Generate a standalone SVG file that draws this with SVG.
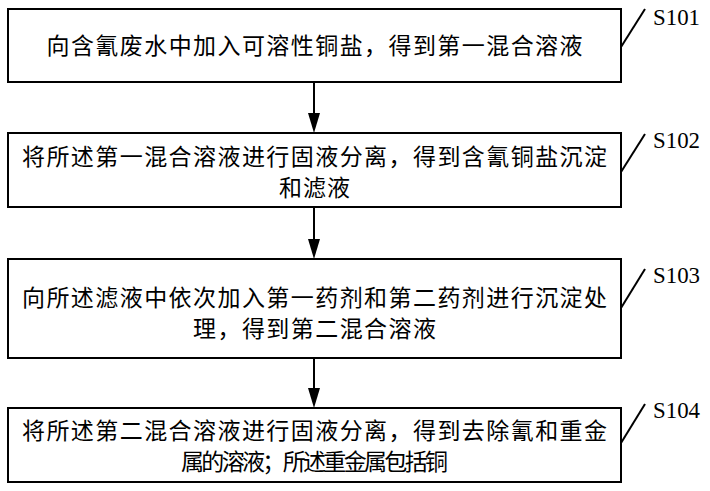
<svg xmlns="http://www.w3.org/2000/svg" width="710" height="491" viewBox="0 0 710 491">
<defs>
<style>
.box{fill:#fff;stroke:#000;stroke-width:2}
.t{font-family:"Noto Sans CJK SC","Liberation Serif",serif;font-size:23px;fill:#000;text-anchor:middle}
.lbl{font-family:"Liberation Serif","Times New Roman",serif;font-size:23px;fill:#000}
.ln{stroke:#000;stroke-width:2;fill:none}
.ah{fill:#000}
</style>
</defs>
<rect width="710" height="491" fill="#fff"/>
<g id="connectors">
<line class="ln" x1="314" y1="83" x2="314" y2="113"/>
<path class="ah" d="M308,113 L320,113 L314,133 Z"/>
<line class="ln" x1="314" y1="207" x2="314" y2="239"/>
<path class="ah" d="M308,239 L320,239 L314,259 Z"/>
<line class="ln" x1="314" y1="358" x2="314" y2="388"/>
<path class="ah" d="M308,388 L320,388 L314,408 Z"/>
</g>
<g id="s101">
<rect class="box" x="8" y="9" width="613" height="73"/>
<text class="t" x="314.5" y="54" textLength="536" lengthAdjust="spacing">向含氰废水中加入可溶性铜盐，得到第一混合溶液</text>
<line class="ln" x1="621" y1="47" x2="645" y2="9"/>
<text class="lbl" x="653" y="25" textLength="47" lengthAdjust="spacingAndGlyphs">S101</text>
</g>
<g id="s102">
<rect class="box" x="8" y="133" width="613" height="74"/>
<text class="t" x="314.5" y="165" textLength="585" lengthAdjust="spacing">将所述第一混合溶液进行固液分离，得到含氰铜盐沉淀</text>
<text class="t" x="314.5" y="196" textLength="71" lengthAdjust="spacing">和滤液</text>
<line class="ln" x1="621" y1="172" x2="645" y2="134"/>
<text class="lbl" x="653" y="148" textLength="47" lengthAdjust="spacingAndGlyphs">S102</text>
</g>
<g id="s103">
<rect class="box" x="8" y="259" width="613" height="99"/>
<text class="t" x="314.5" y="306" textLength="585" lengthAdjust="spacing">向所述滤液中依次加入第一药剂和第二药剂进行沉淀处</text>
<text class="t" x="314.5" y="337" textLength="243" lengthAdjust="spacing">理，得到第二混合溶液</text>
<line class="ln" x1="621" y1="308" x2="645" y2="269"/>
<text class="lbl" x="653" y="283" textLength="47" lengthAdjust="spacingAndGlyphs">S103</text>
</g>
<g id="s104">
<rect class="box" x="8" y="408" width="613" height="74"/>
<text class="t" x="314.5" y="439" textLength="585" lengthAdjust="spacing">将所述第二混合溶液进行固液分离，得到去除氰和重金</text>
<text class="t" x="314.5" y="470" textLength="267" lengthAdjust="spacing">属的溶液；所述重金属包括铜</text>
<line class="ln" x1="621" y1="443" x2="645" y2="404"/>
<text class="lbl" x="653" y="418" textLength="47" lengthAdjust="spacingAndGlyphs">S104</text>
</g>
</svg>
